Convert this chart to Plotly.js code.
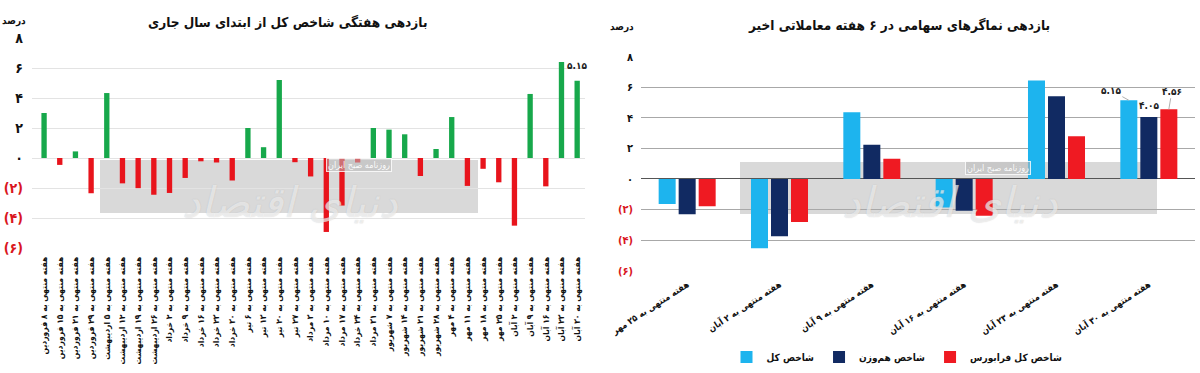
<!DOCTYPE html>
<html>
<head>
<meta charset="utf-8">
<script src="https://cdn.plot.ly/plotly-3.0.1.min.js"></script>
<style>html,body{margin:0;padding:0;background:#fff;}#chart{width:1200px;height:373px;}</style>
</head>
<body>
<div id="chart"></div>
<script>
// ---------- data ----------
const leftWeeks = ['۸ فروردین','۱۵ فروردین','۲۱ فروردین','۲۹ فروردین','۵ اردیبهشت','۱۲ اردیبهشت','۱۹ اردیبهشت','۲۶ اردیبهشت','۲ خرداد','۹ خرداد','۱۶ خرداد','۲۳ خرداد','۳۰ خرداد','۶ تیر','۱۳ تیر','۲۰ تیر','۲۷ تیر','۳ مرداد','۱۰ مرداد','۱۷ مرداد','۲۴ خرداد','۳۱ مرداد','۷ شهریور','۱۴ شهریور','۲۱ شهریور','۲۸ شهریور','۴ مهر','۱۱ مهر','۱۸ مهر','۲۵ مهر','۲ آبان','۹ آبان','۱۶ آبان','۲۳ آبان','۳۰ آبان'];
const leftValues = [3.0,-0.46,0.44,-2.35,4.33,-1.69,-2.01,-2.45,-2.33,-1.33,-0.22,-0.3,-1.5,2.0,0.72,5.2,-0.28,-1.23,-4.93,-3.17,-0.3,2.0,1.89,1.58,-1.2,0.6,2.73,-1.86,-0.72,-1.62,-4.51,4.27,-1.89,6.4,5.15];

const rightWeeks = ['۲۵ مهر','۲ آبان','۹ آبان','۱۶ آبان','۲۳ آبان','۳۰ آبان'];
const totalIndex = [-1.64,-4.53,4.36,-1.87,6.45,5.15];
const equalWeightIndex = [-2.30,-3.74,2.24,-2.07,5.42,4.05];
const ifbIndex = [-1.79,-2.82,1.33,-2.40,2.79,4.56];

const seriesNames = ['شاخص کل','شاخص هم‌وزن','شاخص کل فرابورس'];
const leftTitle = 'بازدهی هفتگی شاخص کل از ابتدای سال جاری';
const rightTitle = 'بازدهی نماگرهای سهامی در ۶ هفته معاملاتی اخیر';
const unitLabel = 'درصد';
const weekPrefix = 'هفته منتهی به ';
const yTicks = [-6,-4,-2,0,2,4,6,8];

// ---------- helpers ----------
const fa = s => String(s).replace(/\d/g, d => '۰۱۲۳۴۵۶۷۸۹'[d]);
const FONT = 'DejaVu Sans Condensed, DejaVu Sans, sans-serif';
const GREEN = '#17a84b', RED = '#e8141c';
const C_LIGHT = '#1db4ee', C_NAVY = '#112a62', C_RED = '#ef1a22';

const leftCats = leftWeeks.map(w => weekPrefix + w);
const rightCats = rightWeeks.map(w => weekPrefix + w);
const tickText = (neg) => yTicks.map(v => v < 0
  ? '<span style="color:' + neg + '">(' + fa(-v) + ')</span>'
  : fa(v));
const lastIdx = leftValues.length - 1;

const traces = [
  {
    type: 'bar', x: leftCats, y: leftValues, xaxis: 'x', yaxis: 'y',
    width: 0.34,
    marker: {color: leftValues.map(v => v >= 0 ? GREEN : RED)},
    showlegend: false, hoverinfo: 'x+y'
  },
  {type: 'bar', name: seriesNames[0], x: rightCats, y: totalIndex, xaxis: 'x2', yaxis: 'y2', marker: {color: C_LIGHT}},
  {type: 'bar', name: seriesNames[1], x: rightCats, y: equalWeightIndex, xaxis: 'x2', yaxis: 'y2', marker: {color: C_NAVY}},
  {type: 'bar', name: seriesNames[2], x: rightCats, y: ifbIndex, xaxis: 'x2', yaxis: 'y2', marker: {color: C_RED}}
];

// group offsets (derived from bargap / number of series)
const BARGAP = 0.35, NSER = 3;
const slot = (1 - BARGAP) / NSER;
const lastG = rightWeeks.length - 1;
const labelFont = {family: FONT, size: 10, color: '#222', weight: 'bold'};
const valAnn = (series, k, ax, ay, arrow) => ({
  xref: 'x2', yref: 'y2', x: lastG + (k - 1) * slot, y: series[lastG],
  text: fa(series[lastG].toFixed(2)),
  showarrow: arrow, ax: ax, ay: ay, arrowhead: 0, arrowwidth: 1, arrowcolor: '#b0b0b0', standoff: 0,
  yshift: arrow ? 0 : 12, xanchor: 'center', font: labelFont
});

const bandColor = '#d9d9d9';
const wmFont = {family: 'DejaVu Serif, DejaVu Sans', size: 42, color: 'rgba(255,255,255,0.6)',
  shadow: '0 0 1px rgba(140,140,140,0.7)', style: 'italic'};
const stampFont = {family: FONT, size: 9, color: 'rgba(255,255,255,0.95)'};
const pa = (x, y) => ({xref: 'paper', yref: 'paper', x: x/1200, y: 1 - y/373, xanchor: 'center', yanchor: 'middle', showarrow: false});

const layout = {
  width: 1200, height: 373,
  margin: {l: 0, r: 0, t: 0, b: 0},
  paper_bgcolor: '#fff', plot_bgcolor: 'rgba(0,0,0,0)',
  barmode: 'group', bargap: BARGAP, bargroupgap: 0.15,
  font: {family: FONT, color: '#111'},
  showlegend: true,
  legend: {
    orientation: 'h', x: 897/1200, xanchor: 'center', y: 1 - 357/373, yanchor: 'middle',
    font: {family: FONT, size: 10, color: '#111', weight: 'bold'},
    itemwidth: 30, traceorder: 'normal', bgcolor: 'rgba(0,0,0,0)'
  },
  xaxis: {
    domain: [32/1200, 585/1200], range: [-0.77, 34.5], type: 'category',
    tickangle: -90, tickfont: {family: FONT, size: 8.5, color: '#111', weight: 'bold'},
    showgrid: false, showline: false, ticks: '', ticklabelstandoff: 6, fixedrange: true
  },
  yaxis: {
    domain: [1 - 248/373, 1 - 38/373], range: [-6, 8],
    tickvals: yTicks, ticktext: tickText('#d9161e'),
    tickfont: {family: FONT, size: 14, color: '#111', weight: 'bold'},
    gridcolor: '#e3e3e3', gridwidth: 1, zeroline: true, zerolinecolor: '#e3e3e3',
    showline: false, ticks: '', ticklabelstandoff: 8, fixedrange: true
  },
  xaxis2: {
    domain: [641/1200, 1195/1200], range: [-0.5, 5.5], type: 'category', anchor: 'y2',
    tickangle: -33, tickfont: {family: FONT, size: 9, color: '#111', weight: 'bold'},
    showgrid: false, showline: false, ticks: '', ticklabelstandoff: 6, fixedrange: true
  },
  yaxis2: {
    domain: [1 - 270.7/373, 1 - 56.7/373], range: [-6, 8], anchor: 'x2',
    tickvals: yTicks, ticktext: tickText('#d9161e'),
    tickfont: {family: FONT, size: 11, color: '#111', weight: 'bold'},
    gridcolor: '#a8a8a8', gridwidth: 1, zeroline: true, zerolinecolor: '#555', zerolinewidth: 1,
    showline: false, ticks: '', ticklabelstandoff: 7, fixedrange: true
  },
  shapes: [
    {type: 'rect', xref: 'paper', yref: 'paper', x0: 100/1200, x1: 478/1200, y0: 1 - 213/373, y1: 1 - 160/373,
      fillcolor: bandColor, line: {width: 0}, layer: 'below'},
    {type: 'rect', xref: 'paper', yref: 'paper', x0: 740/1200, x1: 1157/1200, y0: 1 - 214/373, y1: 1 - 162/373,
      fillcolor: bandColor, line: {width: 0}, layer: 'below'}
  ],
  annotations: [
    Object.assign(pa(287, 22), {text: leftTitle, font: {family: FONT, size: 13.5, color: '#111', weight: 'bold'}}),
    Object.assign(pa(899, 25), {text: rightTitle, font: {family: FONT, size: 13.5, color: '#111', weight: 'bold'}}),
    Object.assign(pa(14, 21), {text: unitLabel, font: {family: FONT, size: 10, color: '#111', weight: 'bold'}}),
    Object.assign(pa(622, 27), {text: unitLabel, font: {family: FONT, size: 10, color: '#111', weight: 'bold'}}),
    // watermark
    Object.assign(pa(290, 202), {text: 'دنیای اقتصاد', font: wmFont}),
    Object.assign(pa(950, 202), {text: 'دنیای اقتصاد', font: wmFont}),
    Object.assign(pa(359, 165), {text: 'روزنامه صبح ایران', font: stampFont, bgcolor: 'rgba(185,185,185,0.55)',
      bordercolor: 'rgba(255,255,255,0.8)', borderwidth: 1, borderpad: 1}),
    Object.assign(pa(998, 168), {text: 'روزنامه صبح ایران', font: stampFont, bgcolor: 'rgba(185,185,185,0.55)',
      bordercolor: 'rgba(255,255,255,0.8)', borderwidth: 1, borderpad: 1}),
    // value label of the latest week (left chart)
    {xref: 'x', yref: 'y', x: leftCats[lastIdx], y: leftValues[lastIdx], text: fa(leftValues[lastIdx].toFixed(2)),
      showarrow: false, yshift: 15, xanchor: 'center', font: labelFont},
    // value labels of the latest week (right chart)
    valAnn(totalIndex, 0, -18, -10, true),
    valAnn(equalWeightIndex, 1, 0, 0, false),
    valAnn(ifbIndex, 2, 3, -18, true)
  ]
};

Plotly.newPlot('chart', traces, layout, {displayModeBar: false, staticPlot: true});
</script>
</body>
</html>
